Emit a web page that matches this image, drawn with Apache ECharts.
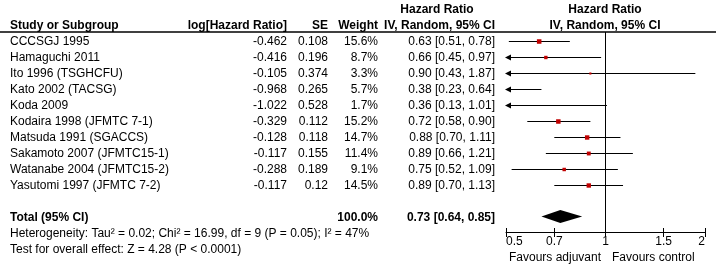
<html>
<head>
<meta charset="utf-8">
<script src="https://cdn.jsdelivr.net/npm/echarts@6/dist/echarts.min.js"></script>
<style>
  html, body { margin: 0; padding: 0; background: #fff; }
  #chart { width: 716px; height: 272px; }
</style>
</head>
<body>
<div id="chart"></div>
<script>
// study data
var studies = ['CCCSGJ 1995', 'Hamaguchi 2011', 'Ito 1996 (TSGHCFU)', 'Kato 2002 (TACSG)', 'Koda 2009',
  'Kodaira 1998 (JFMTC 7-1)', 'Matsuda 1991 (SGACCS)', 'Sakamoto 2007 (JFMTC15-1)',
  'Watanabe 2004 (JFMTC15-2)', 'Yasutomi 1997 (JFMTC 7-2)'];
var logHR = [-0.462, -0.416, -0.105, -0.968, -1.022, -0.329, -0.128, -0.117, -0.288, -0.117];
var se = ['0.108', '0.196', '0.374', '0.265', '0.528', '0.112', '0.118', '0.155', '0.189', '0.12'];
var weight = [15.6, 8.7, 3.3, 5.7, 1.7, 15.2, 14.7, 11.4, 9.1, 14.5];
var hr = [0.63, 0.66, 0.90, 0.38, 0.36, 0.72, 0.88, 0.89, 0.75, 0.89];
var lower = [0.51, 0.45, 0.43, 0.23, 0.13, 0.58, 0.70, 0.66, 0.52, 0.70];
var upper = [0.78, 0.97, 1.87, 0.64, 1.01, 0.90, 1.11, 1.21, 1.09, 1.13];

// pooled estimate
var total = { hr: 0.73, lo: 0.64, hi: 0.85, weight: 100.0 };
var heterogeneity = 'Heterogeneity: Tau\u00b2 = 0.02; Chi\u00b2 = 16.99, df = 9 (P = 0.05); I\u00b2 = 47%';
var overall = 'Test for overall effect: Z = 4.28 (P < 0.0001)';

// axis ticks
var ticks = [0.5, 0.7, 1, 1.5, 2];
var axisMin = 0.5, axisMax = 2;

var totalRow = studies.length + 1;
var font = 'Liberation Sans, Arial, sans-serif';

// table cells: [x, row, text, align, bold]
var cells = [
  [437, -2, 'Hazard Ratio', 'center', 1],
  [605, -2, 'Hazard Ratio', 'center', 1],
  [10, -1, 'Study or Subgroup', 'left', 1],
  [287, -1, 'log[Hazard Ratio]', 'right', 1],
  [328, -1, 'SE', 'right', 1],
  [378, -1, 'Weight', 'right', 1],
  [495, -1, 'IV, Random, 95% CI', 'right', 1],
  [605, -1, 'IV, Random, 95% CI', 'center', 1]
];
studies.forEach(function (s, i) {
  cells.push([10, i, s, 'left', 0]);
  cells.push([287, i, logHR[i].toFixed(3), 'right', 0]);
  cells.push([328, i, se[i], 'right', 0]);
  cells.push([378, i, weight[i].toFixed(1) + '%', 'right', 0]);
  cells.push([495, i, hr[i].toFixed(2) + ' [' + lower[i].toFixed(2) + ', ' + upper[i].toFixed(2) + ']', 'right', 0]);
});
cells.push([10, totalRow, 'Total (95% CI)', 'left', 1]);
cells.push([378, totalRow, total.weight.toFixed(1) + '%', 'right', 1]);
cells.push([495, totalRow, total.hr.toFixed(2) + ' [' + total.lo.toFixed(2) + ', ' + total.hi.toFixed(2) + ']', 'right', 1]);
cells.push([10, totalRow + 1, heterogeneity, 'left', 0]);
cells.push([10, totalRow + 2, overall, 'left', 0]);
cells.push([601, totalRow + 2.5, 'Favours adjuvant', 'right', 0]);
cells.push([612, totalRow + 2.5, 'Favours control', 'left', 0]);

var forestData = studies.map(function (s, i) {
  return [hr[i], lower[i], upper[i], i, weight[i]];
});

var chart = echarts.init(document.getElementById('chart'), null, { renderer: 'canvas' });

var option = {
  animation: false,
  backgroundColor: '#fff',
  grid: [
    { left: 0, top: 0, width: 716, height: 272 },
    { left: 506, top: 32, width: 199, height: 200 }
  ],
  xAxis: [
    { gridIndex: 0, type: 'value', min: 0, max: 716, show: false },
    {
      gridIndex: 1, type: 'log', min: axisMin, max: axisMax, position: 'bottom',
      axisLine: { show: true, onZero: false, lineStyle: { color: '#000', width: 1 } },
      axisTick: { show: true, customValues: ticks, length: 5, lineStyle: { color: '#000' } },
      axisLabel: {
        customValues: ticks, margin: 4, color: '#000', fontFamily: font, fontSize: 12,
        alignMinLabel: 'left', alignMaxLabel: 'right',
        formatter: function (v) { return String(Math.round(v * 10) / 10); }
      },
      splitLine: { show: false }
    },
    {
      gridIndex: 1, type: 'log', min: axisMin, max: axisMax, position: 'bottom',
      axisLine: { show: false, onZero: false },
      axisTick: { show: true, inside: true, customValues: ticks, length: 4, lineStyle: { color: '#000' } },
      axisLabel: { show: false },
      splitLine: { show: false }
    }
  ],
  yAxis: [
    { gridIndex: 0, type: 'value', inverse: true, min: -2.53125, max: 14.46875, show: false },
    { gridIndex: 1, type: 'value', inverse: true, min: -0.53125, max: 11.96875, show: false }
  ],
  graphic: [
    { type: 'line', shape: { x1: 0, y1: 32, x2: 716, y2: 32 }, style: { stroke: '#000', lineWidth: 1.5 } }
  ],
  series: [
    {
      type: 'custom',
      xAxisIndex: 0, yAxisIndex: 0,
      data: cells,
      silent: true,
      renderItem: function (params, api) {
        var c = cells[params.dataIndex];
        var p = api.coord([c[0], c[1]]);
        return {
          type: 'text',
          x: p[0], y: p[1] + 1,
          style: {
            text: c[2], align: c[3], verticalAlign: 'middle',
            fill: '#000',
            font: (c[4] ? 'bold ' : '') + '12px ' + font
          }
        };
      }
    },
    {
      type: 'custom',
      xAxisIndex: 1, yAxisIndex: 1,
      data: forestData,
      clip: false,
      silent: true,
      renderItem: function (params, api) {
        var d = forestData[params.dataIndex];
        var lo = Math.max(d[1], axisMin), hi = Math.min(d[2], axisMax);
        var a = api.coord([lo, d[3]]);
        var b = api.coord([hi, d[3]]);
        var y = Math.round(a[1]) + 0.5;
        var kids = [{
          type: 'line',
          shape: { x1: a[0], y1: y, x2: b[0], y2: y },
          style: { stroke: '#000', lineWidth: 1 }
        }];
        if (d[1] < axisMin) {
          kids.push({
            type: 'polygon',
            shape: { points: [[a[0] - 1, y], [a[0] + 5, y - 3], [a[0] + 5, y + 3]] },
            style: { fill: '#000' }
          });
        }
        if (d[2] > axisMax) {
          kids.push({
            type: 'polygon',
            shape: { points: [[b[0] + 1, y], [b[0] - 5, y - 3], [b[0] - 5, y + 3]] },
            style: { fill: '#000' }
          });
        }
        if (d[0] >= axisMin && d[0] <= axisMax) {
          var c = api.coord([d[0], d[3]]);
          var s = 1.15 * Math.sqrt(d[4]);
          kids.push({
            type: 'rect',
            shape: { x: c[0] - s / 2, y: y - s / 2, width: s, height: s },
            style: { fill: '#c00000' }
          });
        }
        return { type: 'group', children: kids };
      },
      markLine: {
        silent: true,
        symbol: 'none',
        label: { show: false },
        lineStyle: { color: '#000', width: 1, type: 'solid' },
        data: [{ xAxis: 1 }]
      }
    },
    {
      type: 'custom',
      xAxisIndex: 1, yAxisIndex: 1,
      data: [[total.hr, total.lo, total.hi, totalRow]],
      clip: false,
      silent: true,
      renderItem: function (params, api) {
        var l = api.coord([total.lo, totalRow]);
        var m = api.coord([total.hr, totalRow]);
        var r = api.coord([total.hi, totalRow]);
        var h = 6.5;
        return {
          type: 'polygon',
          shape: { points: [[l[0], l[1]], [m[0], m[1] - h], [r[0], r[1]], [m[0], m[1] + h]] },
          style: { fill: '#000' }
        };
      }
    }
  ]
};
chart.setOption(option);
</script>
</body>
</html>
